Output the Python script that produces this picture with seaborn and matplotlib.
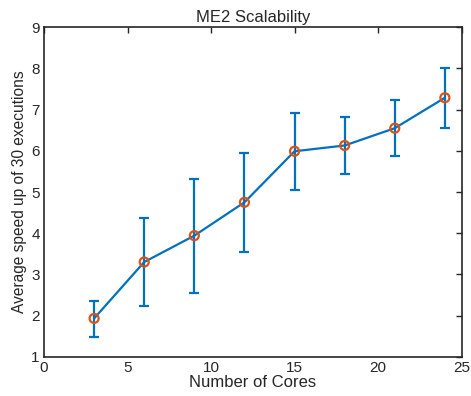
import matplotlib
matplotlib.use("Agg")
import matplotlib.pyplot as plt
import numpy as np
import pandas as pd
import seaborn as sns

cores = [3, 6, 9, 12, 15, 18, 21, 24]
speedup = [1.93, 3.30, 3.94, 4.75, 5.99, 6.13, 6.55, 7.29]
err_low = [1.49, 2.24, 2.54, 3.55, 5.05, 5.44, 5.87, 6.55]
err_high = [2.36, 4.36, 5.31, 5.94, 6.91, 6.83, 7.23, 8.02]

BLUE = "#0072BD"
ORANGE = "#D95319"

sns.set_style("white")
plt.rcParams["font.family"] = ["Liberation Sans", "DejaVu Sans"]

df = pd.DataFrame({"cores": cores, "speedup": speedup})

fig = plt.figure(figsize=(4.71, 3.96), dpi=100)
ax = fig.add_axes([0.0934, 0.0992, 0.8866, 0.8318])

speed = np.asarray(speedup)
yerr = np.vstack([speed - np.asarray(err_low), np.asarray(err_high) - speed])
ax.errorbar(cores, speedup, yerr=yerr, fmt="none", ecolor=BLUE,
            elinewidth=1.6, capsize=3.5, capthick=1.6, zorder=2)
sns.lineplot(data=df, x="cores", y="speedup", color=BLUE, linewidth=1.6,
             ax=ax, zorder=3)
ax.scatter(cores, speedup, s=42, facecolors="none", edgecolors=ORANGE,
           linewidths=1.6, zorder=4)

ax.set_xlim(0, 25)
ax.set_ylim(1, 9)
ax.set_xticks([0, 5, 10, 15, 20, 25])
ax.set_yticks(range(1, 10))
ax.tick_params(direction="in", length=4, width=1, top=True, right=True,
               labelsize=11, colors="#262626", pad=3)
for s in ax.spines.values():
    s.set_linewidth(1.2)
    s.set_color("#262626")
    s.set_visible(True)

ax.set_xlabel("Number of Cores", fontsize=12, labelpad=0)
ax.set_ylabel("Average speed up of 30 executions", fontsize=11.2, labelpad=3)
ax.set_title("ME2 Scalability", fontsize=12, pad=4)

fig.savefig("out.png", dpi=100)
